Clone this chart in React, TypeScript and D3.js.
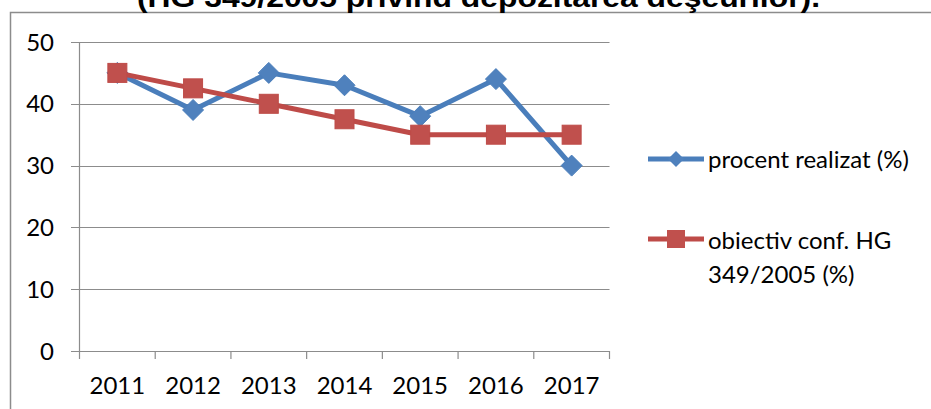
import React from "react";
import * as d3 from "d3";

const years = ["2011", "2012", "2013", "2014", "2015", "2016", "2017"];
const realizat = [45, 39, 45, 43, 38, 44, 30];
const obiectiv = [45, 42.5, 40, 37.5, 35, 35, 35];
const yTicks = [0, 10, 20, 30, 40, 50];
const seriesNames = ["procent realizat (%)", "obiectiv conf. HG", "349/2005 (%)"];
const title = "(HG 349/2005 privind depozitarea deşeurilor).";

const W = 931, H = 409;
const blue = "#4F81BD", red = "#C0504D", grid = "#8C8C8C";
const font = "Lato, 'Open Sans', sans-serif";
const fs = 24;

export default function App() {
  const x = d3.scaleBand().domain(years).range([79.5, 609.5]);
  const y = d3.scaleLinear().domain([0, 50]).range([351, 42]);
  const cx = (d: string) => (x(d) as number) + x.bandwidth() / 2;

  const line = d3.line<number>()
    .x((_, i) => cx(years[i]))
    .y(d => y(d));

  const diamond = (px: number, py: number, r = 10.5) =>
    `M${px},${py - r}L${px + r},${py}L${px},${py + r}L${px - r},${py}Z`;

  const boundaries = [...years.map(d => x(d) as number), x.range()[1]];

  return (
    <svg width={W} height={H} style={{ position: "absolute", left: 0, top: 0, background: "#fff" }}>
      <rect x={10.5} y={12.5} width={1000} height={500} fill="none" stroke={grid} strokeWidth={1.5} />
      <text x={137} y={6.5} textLength={683} lengthAdjust="spacingAndGlyphs"
        fontFamily="'Liberation Sans', Arial, sans-serif"
        fontWeight="bold" fontSize={27} fill="#000">{title}</text>

      {yTicks.map(t => (
        <g key={t}>
          <line x1={71} x2={609.5} y1={Math.round(y(t)) + 0.5} y2={Math.round(y(t)) + 0.5}
            stroke={grid} strokeWidth={1.2} />
          <text x={54} y={y(t)} dy="0.36em" textAnchor="end" fontFamily={font} fontSize={fs} fill="#000">{t}</text>
        </g>
      ))}
      <line x1={79.5} x2={79.5} y1={42} y2={351} stroke={grid} strokeWidth={1.2} />
      {boundaries.map((b, i) => (
        <line key={i} x1={b} x2={b} y1={351} y2={359} stroke={grid} strokeWidth={1.2} />
      ))}
      {years.map(d => (
        <text key={d} x={cx(d)} y={385} dy="0.36em" textAnchor="middle" fontFamily={font} fontSize={fs} fill="#000">{d}</text>
      ))}

      <path d={line(realizat) || ""} fill="none" stroke="#4A7EBB" strokeWidth={5} strokeLinejoin="round" />
      {realizat.map((v, i) => (
        <path key={i} d={diamond(cx(years[i]), y(v))} fill={blue} stroke="#4A7EBB" strokeWidth={1} />
      ))}
      <path d={line(obiectiv) || ""} fill="none" stroke="#BE4B48" strokeWidth={5} strokeLinejoin="round" />
      {obiectiv.map((v, i) => (
        <rect key={i} x={cx(years[i]) - 9.5} y={y(v) - 9.5} width={19} height={19} fill={red} stroke="#BE4B48" strokeWidth={1} />
      ))}

      <line x1={648} x2={704} y1={159} y2={159} stroke="#4A7EBB" strokeWidth={5} />
      <path d={diamond(676, 159, 8)} fill={blue} />
      <text x={708} y={159} dy="0.36em" fontFamily={font} fontSize={fs} fill="#000">{seriesNames[0]}</text>

      <line x1={648} x2={704} y1={239} y2={239} stroke="#BE4B48" strokeWidth={5} />
      <rect x={667} y={230} width={18} height={18} fill={red} />
      <text x={708} y={240} dy="0.36em" fontFamily={font} fontSize={fs} fill="#000">{seriesNames[1]}</text>
      <text x={708} y={274} dy="0.36em" fontFamily={font} fontSize={fs} fill="#000">{seriesNames[2]}</text>
    </svg>
  );
}
